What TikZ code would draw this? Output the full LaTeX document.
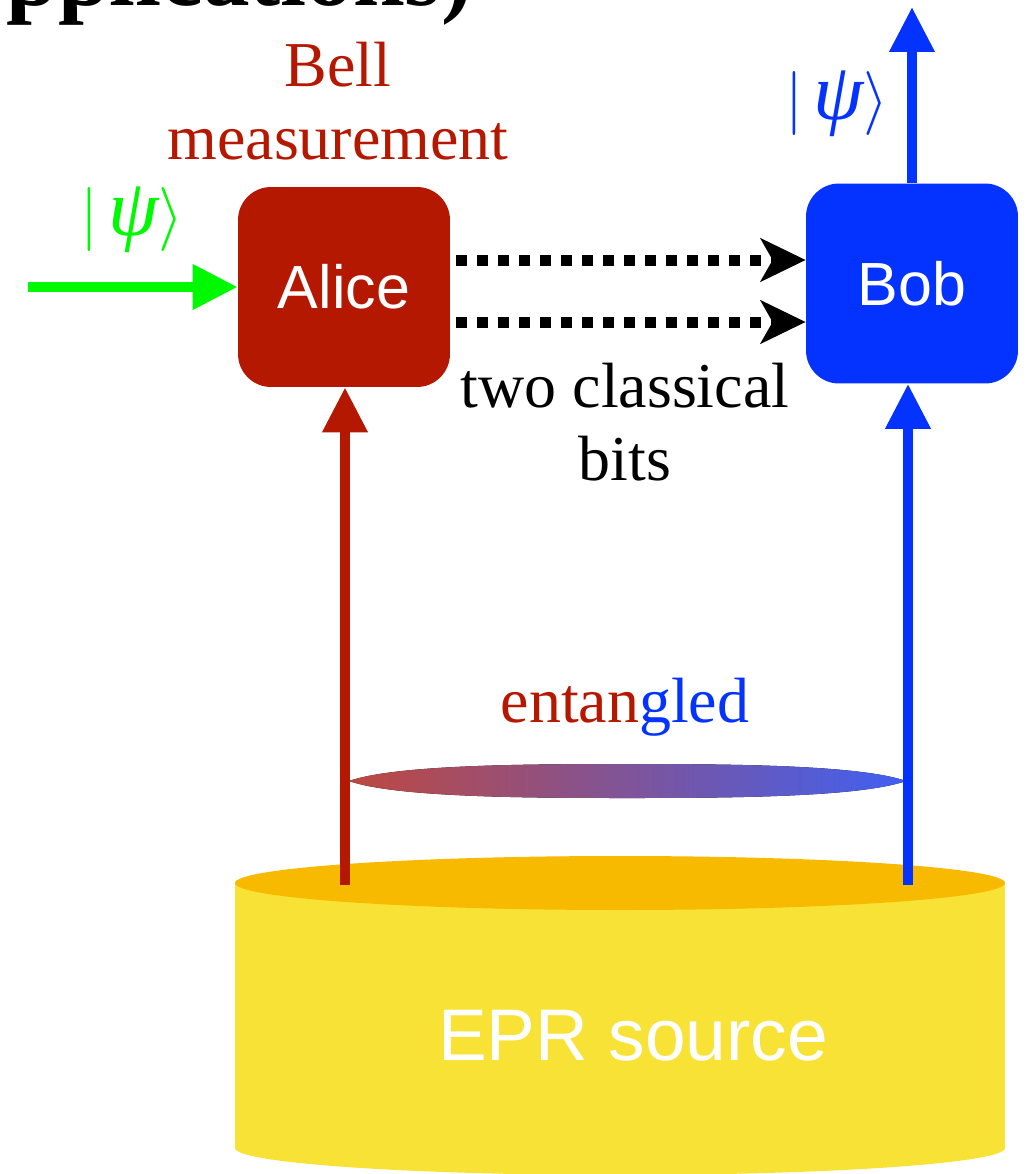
\RequirePackage{fix-cm}
\documentclass[tikz,border=0pt]{standalone}
\usepackage{fontspec}
\setmainfont{Liberation Serif}
\setsansfont{Liberation Sans}
\usetikzlibrary{arrows.meta}

\definecolor{aliceRed}{RGB}{181,24,0}
\definecolor{bobBlue}{RGB}{4,51,255}
\definecolor{psiGreen}{RGB}{0,249,0}
\definecolor{srcTop}{RGB}{247,186,0}
\definecolor{srcBody}{RGB}{249,226,54}
\definecolor{entRed}{RGB}{190,72,64}
\definecolor{entBlue}{RGB}{64,96,242}

\newcommand{\kpsi}{\(|\,\){\itshape\fontsize{46}{50}\selectfont ψ}\(\rangle\)}

\begin{document}
\begin{tikzpicture}[x=0.02cm, y=-0.02cm,
  party/.style={rounded corners=0.66cm, minimum width=4.24cm, minimum height=4cm,
    text=white, font=\sffamily\fontsize{34.7}{40}\selectfont},
  note/.style={font=\fontsize{36.4}{41.5}\selectfont, align=center, inner sep=0pt},
  wire/.style={line width=0.2cm, -{Triangle[length=25.6pt, width=24.5pt]}},
  bits/.style={line width=6.26pt, dash pattern=on 6.26pt off 5.69pt,
    -{Stealth[length=25.6pt, width=24.5pt, inset=6.8pt]}}
]
  \useasboundingbox (0,0) rectangle (1028,1174);
  \clip (0,0) rectangle (1028,1174);

  % title, cut by the top edge
  \node[anchor=base west, inner sep=0pt, font=\bfseries\fontsize{53}{60}\selectfont] (title) at (6,5) {pplications)};

  % EPR source
  \fill[srcBody] (235,883) rectangle (1005,1148);
  \fill[srcBody] (620,1148) ellipse [x radius=385, y radius=27];
  \fill[srcTop] (620,883) ellipse [x radius=385, y radius=27];
  \node[anchor=base, inner sep=0pt, text=white, font=\sffamily\fontsize{41.6}{48}\selectfont] (src) at (633,1060) {EPR source};

  % parties
  \node[party, fill=aliceRed] (alice) at (344,287) {Alice};
  \node[party, fill=bobBlue] (bob) at (912,283.5) {Bob};

  \coordinate (footA) at (345,885);
  \coordinate (footB) at (908,885);
  \coordinate (outB) at (912,7);
  \coordinate (inA) at (28,287);

  % entanglement
  \fill[left color=entRed, right color=entBlue]
    (349,781) .. controls (395,765) and (520,764) .. (627,764)
    .. controls (734,764) and (860,765) .. (906,781)
    .. controls (860,797) and (734,798) .. (627,798)
    .. controls (520,798) and (395,797) .. (349,781) -- cycle;
  \node[note, anchor=base] (ent) at (625,722) {{\color{aliceRed}entan}{\color{bobBlue}gled}};

  % wires
  \draw[wire, psiGreen] (inA) -- (alice.west);
  \draw[wire, aliceRed] (footA) -- (footA |- alice.south);
  \draw[wire, bobBlue] (footB) -- (footB |- bob.south);
  \draw[wire, bobBlue] (bob.north) -- (outB);

  \draw[bits] (456,260) -- (bob.west |- 0,260);
  \draw[bits] (456,322) -- (bob.west |- 0,322);

  % labels
  \node[note, text=aliceRed] (bell) at (338,101.5) {Bell\\measurement};
  \node[note] (cbits) at (625,422.5) {two classical\\bits};
  \node[note, text=psiGreen] (psiIn) at (132,220) {\kpsi};
  \node[note, text=bobBlue] (psiOut) at (837,103.5) {\kpsi};
\end{tikzpicture}
\end{document}
